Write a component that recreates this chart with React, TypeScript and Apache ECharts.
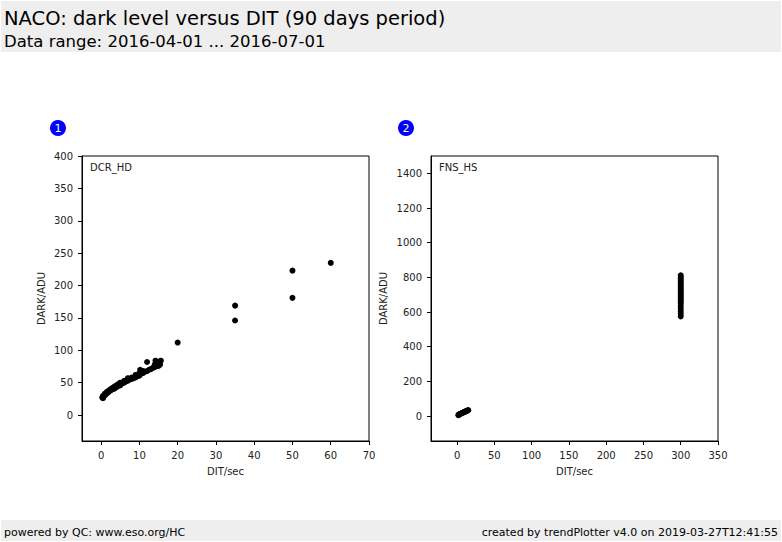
import React, { useEffect, useRef } from "react";
import * as echarts from "echarts";

const TITLE = "NACO: dark level versus DIT (90 days period)";
const SUBTITLE = "Data range: 2016-04-01 ... 2016-07-01";
const FOOT_LEFT = "powered by QC: www.eso.org/HC";
const FOOT_RIGHT = "created by trendPlotter v4.0 on 2019-03-27T12:41:55";

const panel1Label = "DCR_HD";
const panel2Label = "FNS_HS";
const xName = "DIT/sec";
const yName = "DARK/ADU";

const dcrDit = [0.3, 0.4, 0.5, 0.5, 0.6, 0.8, 1.0, 1.0, 1.2, 1.5, 1.5, 1.8, 2.0, 2.0, 2.5, 2.5, 3.0, 3.0, 3.5, 3.5, 4.0, 4.0, 4.5, 4.5, 5.0, 5.0, 5.5, 6.0, 6.0, 6.5, 7.0, 7.0, 7.5, 8.0, 8.0, 8.5, 9.0, 9.0, 9.5, 10.0, 10.0, 10.2, 10.5, 11.0, 11.0, 11.5, 12.0, 12.0, 12.5, 13.0, 13.5, 14.0, 14.0, 14.2, 14.5, 15.0, 15.0, 15.4, 15.6, 20, 35, 35, 50, 50, 60];
const dcrDark = [27, 28, 26, 29, 30, 30, 31, 33, 32, 34, 36, 35, 36, 38, 38, 40, 40, 42, 41, 44, 43, 46, 45, 48, 46, 50, 49, 50, 53, 52, 53, 57, 55, 56, 58, 57, 58, 62, 60, 61, 65, 70, 64, 65, 68, 67, 68, 82, 70, 71, 73, 74, 78, 84, 76, 76, 80, 78, 84, 112, 169, 146, 223, 181, 235];

const fnsDit = [1.8, 2, 2.5, 3, 4, 5, 6, 7, 8, 9, 10, 11, 12, 13, 14, 15, 300, 300, 300, 300, 300, 300, 300, 300, 300, 300, 300, 300, 300, 300, 300, 300, 300, 300, 300, 300, 300, 300];
const fnsDark = [5, 7, 8, 10, 12, 14, 16, 18, 20, 22, 24, 26, 28, 30, 32, 34, 575, 590, 605, 620, 635, 650, 660, 670, 680, 690, 700, 710, 720, 730, 740, 750, 760, 770, 780, 790, 800, 812];

const x1Ticks = [0, 10, 20, 30, 40, 50, 60, 70];
const y1Ticks = [0, 50, 100, 150, 200, 250, 300, 350, 400];
const x2Ticks = [0, 50, 100, 150, 200, 250, 300, 350];
const y2Ticks = [0, 200, 400, 600, 800, 1000, 1200, 1400];

const FONT = "DejaVu Sans";

export default function App() {
  const ref = useRef<HTMLDivElement>(null);
  useEffect(() => {
    document.body.style.margin = "0";
    const chart = echarts.init(ref.current!, null, { renderer: "svg" });
    const axisCommon = (ticks: number[]) => ({
      type: "value" as const,
      axisLine: { show: true, onZero: false, lineStyle: { color: "#000", width: 1 } },
      axisTick: { show: true, length: 4, lineStyle: { color: "#000" }, customValues: ticks },
      axisLabel: {
        show: true,
        margin: 9,
        color: "#222",
        fontSize: 10,
        fontFamily: FONT,
        customValues: ticks,
        formatter: (v: number) => String(v),
      },
      splitLine: { show: false },
      nameTextStyle: { color: "#222", fontSize: 10, fontFamily: FONT },
    });
    const grids = [
      { left: 82, top: 156, width: 287, height: 285 },
      { left: 431, top: 156, width: 287, height: 285 },
    ];
    chart.setOption({
      animation: false,
      grid: grids.map((g) => ({ ...g, show: true, borderColor: "#000", borderWidth: 1, backgroundColor: "#fff" })),
      xAxis: [
        { ...axisCommon(x1Ticks), gridIndex: 0, min: -5, max: 70, name: xName, nameLocation: "middle", nameGap: 25 },
        { ...axisCommon(x2Ticks), gridIndex: 1, min: -35, max: 350, name: xName, nameLocation: "middle", nameGap: 25 },
      ],
      yAxis: [
        { ...axisCommon(y1Ticks), gridIndex: 0, min: -40, max: 400, name: yName, nameLocation: "middle", nameGap: 36 },
        { ...axisCommon(y2Ticks), gridIndex: 1, min: -144, max: 1500, name: yName, nameLocation: "middle", nameGap: 43 },
      ],
      series: [
        {
          type: "scatter",
          xAxisIndex: 0,
          yAxisIndex: 0,
          symbolSize: 6,
          itemStyle: { color: "#000", opacity: 1 },
          data: dcrDit.map((d, i) => [d, dcrDark[i]]),
        },
        {
          type: "scatter",
          xAxisIndex: 1,
          yAxisIndex: 1,
          symbolSize: 6,
          itemStyle: { color: "#000", opacity: 1 },
          data: fnsDit.map((d, i) => [d, fnsDark[i]]),
        },
      ],
      graphic: [
        { type: "rect", shape: { x: 1, y: 1, width: 780, height: 51 }, style: { fill: "#eeeeee" }, z: -1 },
        { type: "rect", shape: { x: 1, y: 520, width: 780, height: 21 }, style: { fill: "#eeeeee" }, z: -1 },
        { type: "text", x: 4, y: 18, style: { text: TITLE, fontSize: 19.5, fontFamily: FONT, fill: "#000", verticalAlign: "middle" } },
        { type: "text", x: 4, y: 41, style: { text: SUBTITLE, fontSize: 16.5, fontFamily: FONT, fill: "#000", verticalAlign: "middle" } },
        { type: "text", x: 4, y: 532, style: { text: FOOT_LEFT, fontSize: 11, fontFamily: FONT, fill: "#000", verticalAlign: "middle" } },
        { type: "text", x: 778, y: 532, style: { text: FOOT_RIGHT, fontSize: 11, fontFamily: FONT, fill: "#000", align: "right", verticalAlign: "middle" } },
        { type: "circle", shape: { cx: 58, cy: 128, r: 8 }, style: { fill: "#0000ff" } },
        { type: "text", x: 58, y: 128, style: { text: "1", fontSize: 11, fontFamily: FONT, fill: "#ffffcc", align: "center", verticalAlign: "middle" } },
        { type: "circle", shape: { cx: 406, cy: 128, r: 8 }, style: { fill: "#0000ff" } },
        { type: "text", x: 406, y: 128, style: { text: "2", fontSize: 11, fontFamily: FONT, fill: "#ffffcc", align: "center", verticalAlign: "middle" } },
        { type: "text", x: 90, y: 167, z: 10, style: { text: panel1Label, fontSize: 10, fontFamily: FONT, fill: "#222", verticalAlign: "middle" } },
        { type: "text", x: 439, y: 167, z: 10, style: { text: panel2Label, fontSize: 10, fontFamily: FONT, fill: "#222", verticalAlign: "middle" } },
      ],
    });
    return () => chart.dispose();
  }, []);
  return <div ref={ref} style={{ width: 782, height: 542 }} />;
}
